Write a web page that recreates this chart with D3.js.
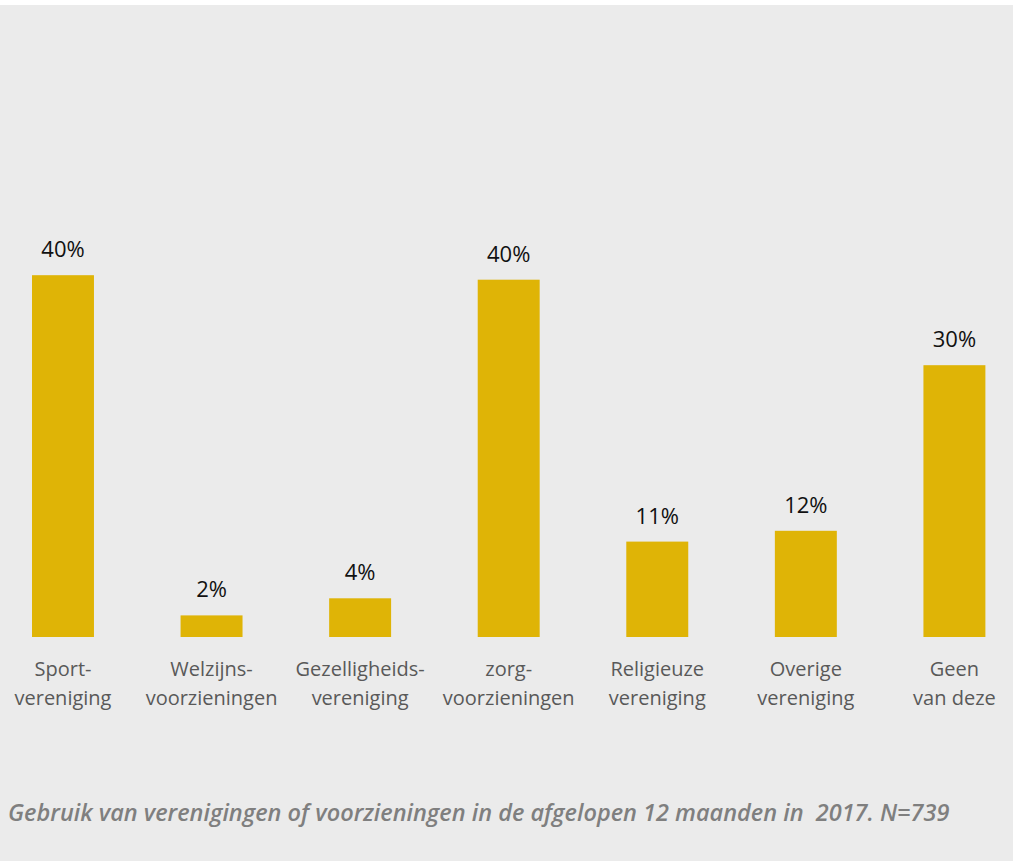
<!DOCTYPE html>
<html>
<head>
<meta charset="utf-8">
<script src="https://cdn.jsdelivr.net/npm/d3@7"></script>
<style>
  html, body { margin: 0; padding: 0; background: #ffffff; }
  svg { display: block; }
</style>
</head>
<body>
<svg id="chart" width="1013" height="861"></svg>
<script>
// Data
const categories = [
  ["Sport-", "vereniging"],
  ["Welzijns-", "voorzieningen"],
  ["Gezelligheids-", "vereniging"],
  ["zorg-", "voorzieningen"],
  ["Religieuze", "vereniging"],
  ["Overige", "vereniging"],
  ["Geen", "van deze"]
];
const values = [40.2, 2.4, 4.3, 39.7, 10.6, 11.8, 30.2];
const caption = "Gebruik van verenigingen of voorzieningen in de afgelopen 12 maanden in  2017. N=739";

const W = 1013, H = 861;
const svg = d3.select("#chart");

svg.append("rect").attr("x", 0).attr("y", 5).attr("width", W).attr("height", H - 5).attr("fill", "#ebebeb");

const keys = categories.map((d, i) => i);
const x = d3.scaleBand().domain(keys).range([-11.3, 1028.7]).paddingInner(0.583).paddingOuter(0.2915);
const y = d3.scaleLinear().domain([0, 70]).range([637, 7]);

const g = svg.append("g");

g.selectAll("rect.bar").data(values).join("rect")
  .attr("class", "bar")
  .attr("x", (d, i) => x(i))
  .attr("width", x.bandwidth())
  .attr("y", d => y(d))
  .attr("height", d => y(0) - y(d))
  .attr("fill", "#dfb406");

g.selectAll("text.val").data(values).join("text")
  .attr("class", "val")
  .attr("x", (d, i) => x(i) + x.bandwidth() / 2)
  .attr("y", d => y(d) - 18)
  .attr("text-anchor", "middle")
  .attr("font-family", "'Open Sans', sans-serif")
  .attr("font-size", 22)
  .attr("fill", "#111111")
  .text(d => Math.round(d) + "%");

const lab = g.selectAll("text.cat").data(categories).join("text")
  .attr("class", "cat")
  .attr("text-anchor", "middle")
  .attr("font-family", "'Open Sans', sans-serif")
  .attr("font-size", 20)
  .attr("fill", "#595959");
lab.each(function(d, i) {
  const t = d3.select(this);
  d.forEach((line, j) => {
    t.append("tspan")
      .attr("x", x(i) + x.bandwidth() / 2)
      .attr("y", 676 + j * 29)
      .text(line);
  });
});

svg.append("text")
  .attr("x", 8)
  .attr("y", 821)
  .attr("font-family", "'Open Sans', sans-serif")
  .attr("font-style", "italic")
  .attr("font-weight", 600)
  .attr("font-size", 23.5)
  .attr("fill", "#7f7f7f")
  .style("white-space", "pre")
  .attr("xml:space", "preserve")
  .text(caption);
</script>
</body>
</html>
